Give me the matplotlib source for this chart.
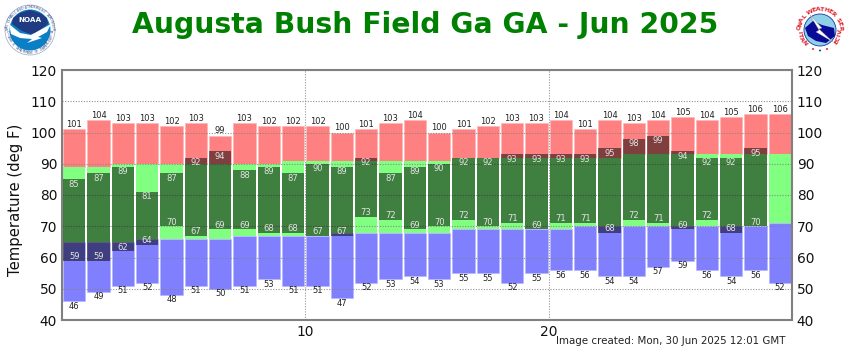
import numpy as np
import matplotlib
matplotlib.use('Agg')
import matplotlib.pyplot as plt
from matplotlib.patches import Circle, Polygon, Wedge

days = np.arange(1, 31)
rec_high = [101, 104, 103, 103, 102, 103, 99, 103, 102, 102, 102, 100, 101, 103, 104,
            100, 101, 102, 103, 103, 104, 101, 104, 103, 104, 105, 104, 105, 106, 106]
rec_low = [46, 49, 51, 52, 48, 51, 50, 51, 53, 51, 51, 47, 52, 53, 54,
           53, 55, 55, 52, 55, 56, 56, 54, 54, 57, 59, 56, 54, 56, 52]
norm_high = [89, 89, 90, 90, 90, 90, 90, 90, 90, 91, 91, 91, 91, 91, 91,
             91, 92, 92, 92, 92, 92, 92, 92, 93, 93, 93, 93, 93, 93, 93]
norm_low = [65, 65, 65, 66, 66, 66, 66, 67, 67, 67, 67, 68, 68, 68, 68,
            68, 69, 69, 69, 69, 69, 70, 70, 70, 70, 70, 70, 70, 70, 71]
obs_high = [85, 87, 89, 81, 87, 92, 94, 88, 89, 87, 90, 89, 92, 87, 89,
            90, 92, 92, 93, 93, 93, 93, 95, 98, 99, 94, 92, 92, 95, np.nan]
obs_low = [59, 59, 62, 64, 70, 67, 69, 69, 68, 68, 67, 67, 73, 72, 69,
           70, 72, 70, 71, 69, 71, 71, 68, 72, 71, 69, 72, 68, 70, np.nan]

title = 'Augusta Bush Field Ga GA - Jun 2025'
stamp = 'Image created: Mon, 30 Jun 2025 12:01 GMT'

rec_high, rec_low = np.array(rec_high), np.array(rec_low)
norm_high, norm_low = np.array(norm_high), np.array(norm_low)
obs_high, obs_low = np.array(obs_high), np.array(obs_low)

W, H = 850, 350
fig = plt.figure(figsize=(W / 100, H / 100), dpi=100)
ax = fig.add_axes([62 / W, 1 - 320 / H, 730 / W, 250 / H])

x = days - 0.5
bw = 0.93
ax.bar(x, rec_high - norm_high, bottom=norm_high, width=bw, color='#ff8080', edgecolor='#ffb4b4', lw=0.4, zorder=2)
ax.bar(x, norm_high - norm_low, bottom=norm_low, width=bw, color='#80ff80', lw=0, zorder=2)
ax.bar(x, norm_low - rec_low, bottom=rec_low, width=bw, color='#8080ff', edgecolor='#b4b4ff', lw=0.4, zorder=2)

# observed range darkens whatever is under it
ok = ~np.isnan(obs_high)
ax.bar(x[ok], (obs_high - obs_low)[ok], bottom=obs_low[ok], width=bw, color='black', alpha=0.5, lw=0, zorder=3)

ax.set_xlim(0, 30)
ax.set_ylim(40, 120)
ax.set_yticks(np.arange(40, 121, 10))
ax.set_xticks([10, 20])
ax.tick_params(length=0, labelsize=9.9, labelcolor='#111111', labelleft=True, labelright=True, pad=3.5)
ax.grid(True, color='#808080', linestyle=(0, (1, 1.4)), linewidth=0.8, alpha=0.85, zorder=4)
ax.set_axisbelow(False)
for s in ax.spines.values():
    s.set_color('#808080')
    s.set_linewidth(1.5)
fig.text(16 / W, 1 - 200 / H, 'Temperature (deg F)', rotation=90, ha='center', va='center',
         fontsize=10.7, color='#111111')

lab = dict(ha='center', va='center', fontsize=6, textcoords='offset points', zorder=6)
for i, xx in enumerate(x):
    ax.annotate(str(rec_high[i]), (xx, rec_high[i]), xytext=(0, 3.4), color='#222222', **lab)
    ax.annotate(str(rec_low[i]), (xx, rec_low[i]), xytext=(0, -3.6), color='#222222', **lab)
    if ok[i]:
        ax.annotate(str(int(obs_high[i])), (xx, obs_high[i]), xytext=(0, -3.6), color='#e4e4e4', **lab)
        ax.annotate(str(int(obs_low[i])), (xx, obs_low[i]), xytext=(0, 3.0), color='#e4e4e4', **lab)

fig.text(425 / W, 1 - 25 / H, title, ha='center', va='center', fontsize=20.3,
         fontweight='bold', color='#008000')
fig.text(786 / W, 1 - 341 / H, stamp, ha='right', va='center', fontsize=7.4, color='#222222')

# logos, drawn on an overlay in pixel coordinates
ov = fig.add_axes([0, 0, 1, 1], zorder=5)
ov.set_xlim(0, W)
ov.set_ylim(H, 0)
ov.axis('off')
ov.patch.set_alpha(0)


def ring_text(cx, cy, r, s, start, end, **kw):
    # angles in degrees, clockwise on screen, 0 is straight up
    for ch, a in zip(s, np.linspace(start, end, len(s))):
        t = np.radians(a)
        rot = -a if abs(a) <= 90 else 180 - a
        ov.text(cx + r * np.sin(t), cy - r * np.cos(t), ch, rotation=rot,
                ha='center', va='center', **kw)


# NOAA
ov.add_patch(Circle((30, 30), 25, fc='white', ec='#9aa6c0', lw=0.5))
ov.add_patch(Circle((30, 30), 20.5, fc='#0a7fc6', ec='none'))
ov.add_patch(Polygon([(13, 18), (20, 13), (30, 10), (40, 13), (47, 18), (48, 24), (36, 33), (30, 34),
                      (22, 31), (12, 24)], fc='#1f3c82', ec='none'))
ov.add_patch(Polygon([(9, 24), (20, 33), (31, 35), (51, 24), (47, 32), (38, 37), (42, 38),
                      (27, 43), (32, 39), (20, 38), (11, 34)], fc='white', ec='none'))
ov.text(30, 19.5, 'NOAA', ha='center', va='center', fontsize=5.2, fontweight='bold', color='white')
ring_text(30, 30, 22.7, 'NATIONAL OCEANIC AND ATMOSPHERIC ADMINISTRATION', -112, 112,
          fontsize=2.3, color='#33508c')
ring_text(30, 30, 22.7, 'U.S. DEPARTMENT OF COMMERCE', 242, 118, fontsize=2.3, color='#33508c')

# NWS
ov.add_patch(Circle((820, 30), 24, fc='white', ec='none'))
ov.add_patch(Circle((820, 30), 16, fc='#8fd0e8', ec='#123a9c', lw=0.6))
ov.add_patch(Polygon([(805, 28), (813, 21), (822, 25), (834, 28), (835, 36), (826, 43),
                      (816, 41), (808, 36)], fc='#0a0a96', ec='none'))
ov.add_patch(Polygon([(810, 15), (822, 28), (819, 29), (833, 42), (816, 32), (819, 30)],
                     fc='white', ec='#888888', lw=0.2))
ring_text(820, 30, 20.5, 'NATIONAL WEATHER SERVICE', -128, 128, fontsize=4.4, fontweight='bold',
          color='#e0202c')
ov.scatter([813, 820, 827], [49, 50.5, 49], s=2, c=['#e0202c', '#123a9c', '#e0202c'], lw=0)

fig.savefig('out.png', dpi=100)
